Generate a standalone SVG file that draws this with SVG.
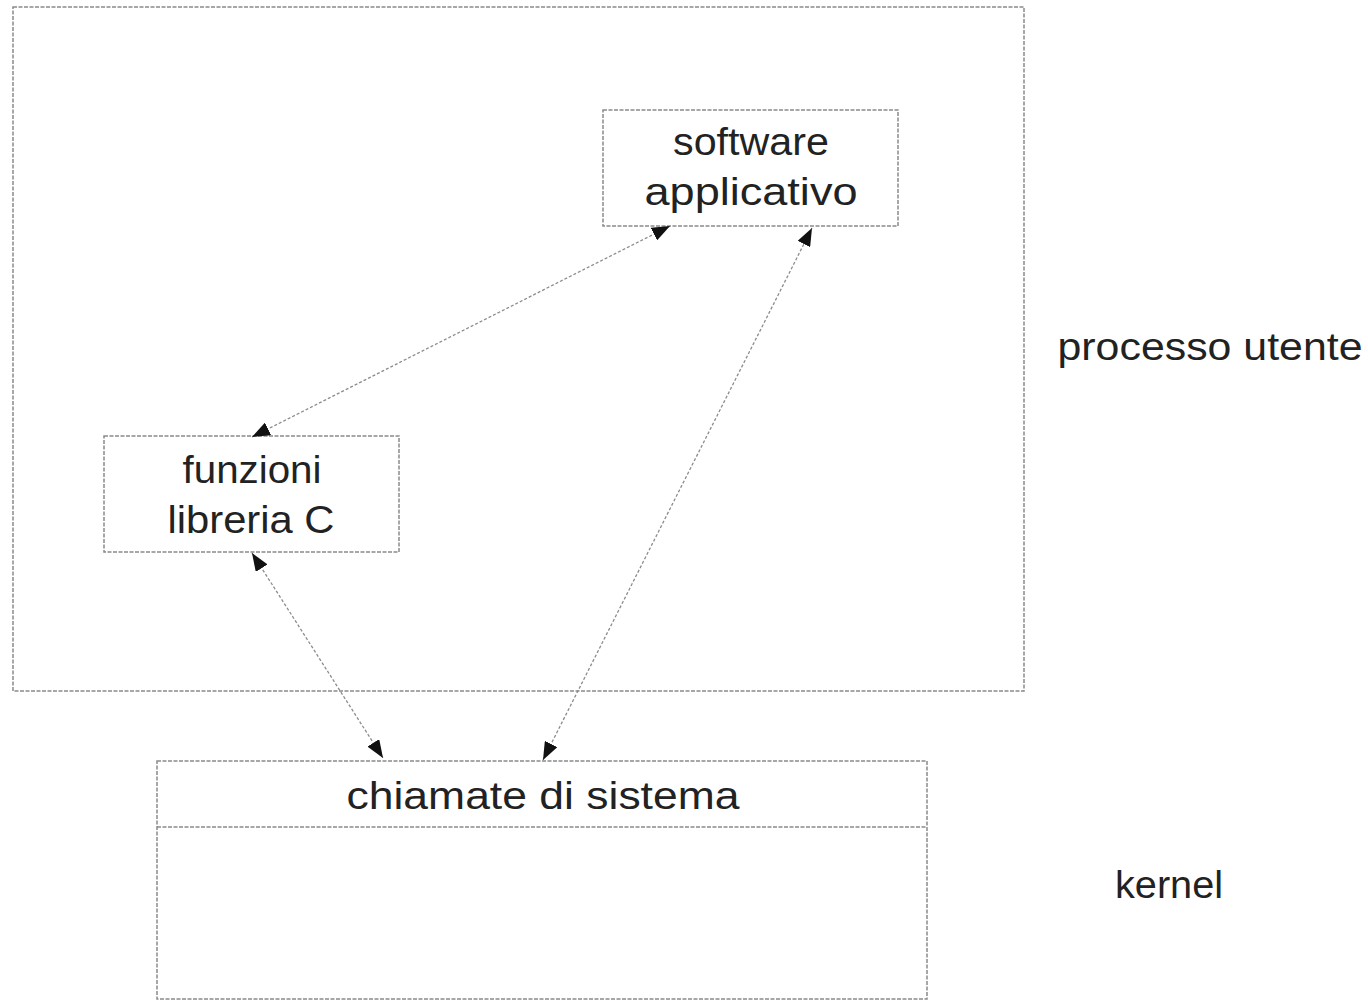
<svg xmlns="http://www.w3.org/2000/svg" width="1368" height="1002" viewBox="0 0 1368 1002">
<style>
.box{fill:none;stroke:#8a8a8a;stroke-width:1.5;stroke-dasharray:4 1.5}
.conn{fill:none;stroke:#8c8c8c;stroke-width:1.3;stroke-dasharray:3 2}
.t{font-family:"Liberation Sans",Arial,sans-serif;font-size:38px;fill:#222;text-anchor:middle}
</style>
<defs>
<marker id="ah" viewBox="0 0 18 14" refX="18" refY="7" markerWidth="18" markerHeight="14" markerUnits="userSpaceOnUse" orient="auto-start-reverse">
<path d="M0,0 L18,7 L0,14 Z" fill="#111"/>
</marker>
</defs>
<rect width="1368" height="1002" fill="#fff"/>
<g id="processo-utente">
<rect class="box" x="13" y="7" width="1011" height="684"/>
<text class="t" x="1210" y="360" textLength="305" lengthAdjust="spacingAndGlyphs">processo utente</text>
</g>
<g id="software-applicativo">
<rect class="box" x="603" y="110" width="295" height="116"/>
<text class="t" x="751" y="155" textLength="156" lengthAdjust="spacingAndGlyphs">software</text>
<text class="t" x="751" y="205" textLength="213" lengthAdjust="spacingAndGlyphs">applicativo</text>
</g>
<g id="funzioni-libreria">
<rect class="box" x="104" y="436" width="295" height="116"/>
<text class="t" x="252" y="483" textLength="139" lengthAdjust="spacingAndGlyphs">funzioni</text>
<text class="t" x="251" y="533" textLength="167" lengthAdjust="spacingAndGlyphs">libreria C</text>
</g>
<g id="kernel">
<rect class="box" x="157" y="761" width="770" height="238"/>
<line class="box" x1="157" y1="827" x2="927" y2="827"/>
<text class="t" x="543" y="809" textLength="393" lengthAdjust="spacingAndGlyphs">chiamate di sistema</text>
<text class="t" x="1169" y="898" textLength="108" lengthAdjust="spacingAndGlyphs">kernel</text>
</g>
<g id="connectors">
<line class="conn" x1="252" y1="437" x2="670" y2="226" marker-start="url(#ah)" marker-end="url(#ah)"/>
<line class="conn" x1="543" y1="760" x2="812" y2="228" marker-start="url(#ah)" marker-end="url(#ah)"/>
<line class="conn" x1="252" y1="553" x2="383" y2="758" marker-start="url(#ah)" marker-end="url(#ah)"/>
</g>
</svg>
